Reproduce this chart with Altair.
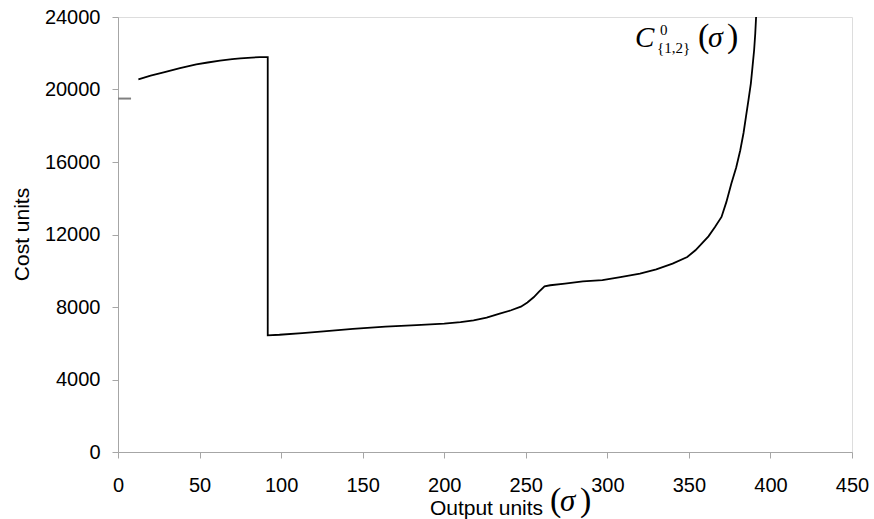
import altair as alt
import pandas as pd

# Cost curve C0_{1,2}(sigma): output units vs. cost units
sigma = [12.5, 20, 28, 38, 48, 55, 62.5, 70, 75, 82, 87, 91.8,
         91.8, 99, 113, 126, 144, 164, 183, 200, 210, 218, 226, 234, 241,
         247, 251, 255, 258, 261.5, 265, 274, 285, 297, 308, 320, 330, 340,
         349, 354, 357, 362, 366, 370, 373, 376, 379, 381.5, 383.5, 385,
         386.5, 388, 389, 390, 390.7, 391.2]
cost = [20560, 20760, 20950, 21180, 21390, 21490, 21590, 21680, 21720, 21760, 21790, 21790,
        6440, 6470, 6560, 6660, 6790, 6920, 7000, 7080, 7160, 7260, 7410, 7630, 7820,
        8020, 8250, 8550, 8830, 9140, 9200, 9290, 9410, 9480, 9650, 9840, 10080, 10390,
        10760, 11130, 11410, 11900, 12420, 12970, 13800, 14800, 15700, 16650, 17600, 18500,
        19400, 20340, 21250, 22180, 23100, 24000]

# short marker segment near the y axis
marker_sigma = [0]
marker_sigma2 = [8]
marker_cost = [19500]

x_ticks = [0, 50, 100, 150, 200, 250, 300, 350, 400, 450]
y_ticks = [0, 4000, 8000, 12000, 16000, 20000, 24000]

curve_df = pd.DataFrame({"sigma": sigma, "cost": cost, "idx": range(len(sigma))})
marker_df = pd.DataFrame({"s0": marker_sigma, "s1": marker_sigma2, "c": marker_cost})

AXIS_GRAY = "#a6a6a6"
SANS = "Liberation Sans"
SERIF = "Liberation Serif"

x_enc = alt.X(
    "sigma:Q",
    scale=alt.Scale(domain=[0, 450], nice=False, zero=False),
    axis=alt.Axis(
        values=x_ticks, format="d", title="Output units", grid=False,
        domainColor=AXIS_GRAY, tickColor=AXIS_GRAY, tickSize=6,
        labelFont=SANS, labelFontSize=20, labelColor="black", labelPadding=17,
        labelFlush=False,
        titleFont=SANS, titleFontSize=21, titleFontWeight="normal", titleColor="black",
        titleX=368, titleY=62, titleAlign="center", titleBaseline="alphabetic",
    ),
)
y_enc = alt.Y(
    "cost:Q",
    scale=alt.Scale(domain=[0, 24000], nice=False),
    axis=alt.Axis(
        values=y_ticks, format="d", title="Cost units", grid=False,
        domainColor=AXIS_GRAY, tickColor=AXIS_GRAY, tickSize=6,
        labelFont=SANS, labelFontSize=20, labelColor="black", labelPadding=12,
        labelFlush=False,
        titleFont=SANS, titleFontSize=21, titleFontWeight="normal", titleColor="black",
        titleX=-90, titleY=217, titleAngle=270, titleAlign="center",
        titleBaseline="alphabetic",
    ),
)

curve = alt.Chart(curve_df).mark_line(color="black", strokeWidth=1.8).encode(
    x=x_enc, y=y_enc, order="idx:Q"
)

marker = alt.Chart(marker_df).mark_rule(color="#808080", strokeWidth=2).encode(
    x="s0:Q", x2="s1:Q", y="c:Q"
)


def label(text, x, y, size, italic=False, font=SERIF):
    return alt.Chart(pd.DataFrame({"t": [text]})).mark_text(
        font=font, fontSize=size, fontStyle="italic" if italic else "normal",
        align="left", baseline="alphabetic", color="black",
    ).encode(text="t:N", x=alt.value(x), y=alt.value(y))


# curve name C^0_{1,2}(sigma)
name = [
    label("C", 517, 30, 29, italic=True),
    label("0", 542, 18, 15),
    label("{1,2}", 539, 36, 15),
    label("(", 580, 30, 34),
    label("σ", 590, 30, 30, italic=True),
    label(")", 609, 30, 34),
]

# the (sigma) part of the horizontal axis title
axis_sigma = [
    label("(", 432, 494, 34),
    label("σ", 442, 494, 31, italic=True),
    label(")", 462, 494, 34),
]

chart = alt.layer(curve, marker, *name, *axis_sigma).properties(
    width=734,
    height=435,
    padding={"left": 118, "top": 17, "right": 22, "bottom": 67},
    autosize=alt.AutoSizeParams(type="none"),
).configure_view(stroke=None).configure(background="white")

chart.save("out.html", embed_options={"renderer": "svg", "actions": False})
